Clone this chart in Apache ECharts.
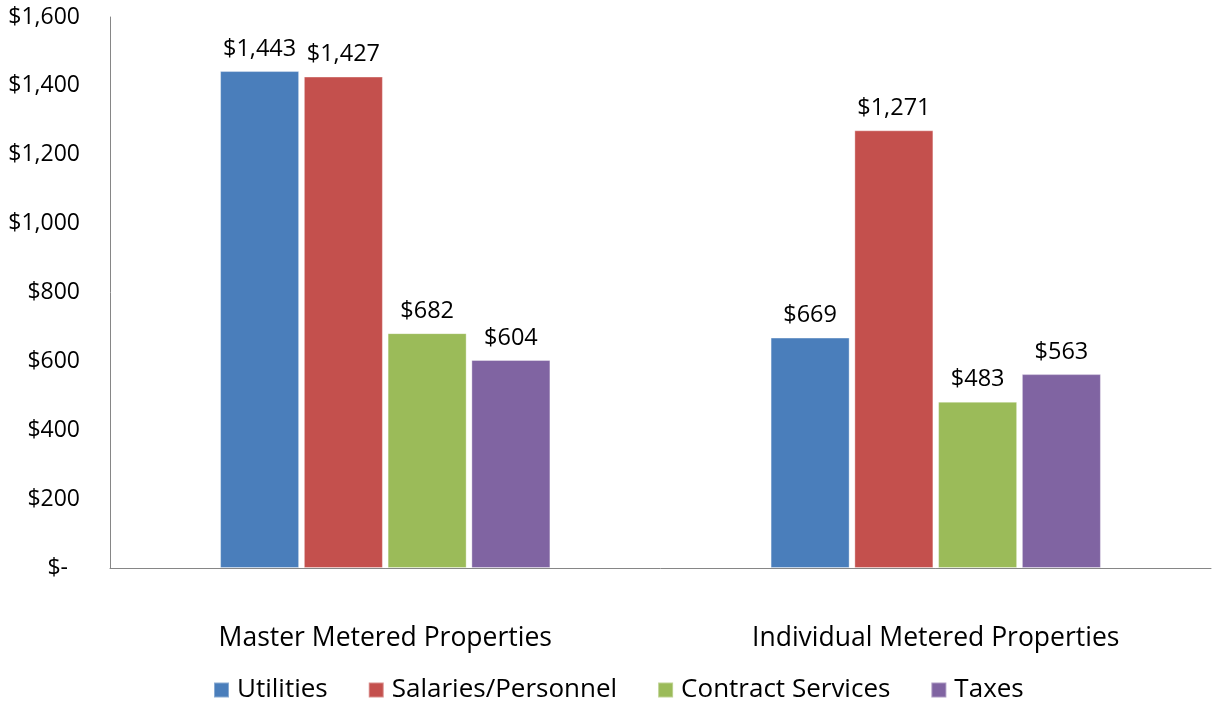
<!DOCTYPE html>
<html><head><meta charset="utf-8">
<script src="https://cdn.jsdelivr.net/npm/echarts@6/dist/echarts.min.js"></script>
<style>html,body{margin:0;padding:0;background:#fff}#c{width:1212px;height:704px}</style>
</head><body><div id="c"></div>
<script>
const categories = ['Master Metered Properties', 'Individual Metered Properties'];
const seriesNames = ['Utilities', 'Salaries/Personnel', 'Contract Services', 'Taxes'];
const utilities = [1443, 669];
const salaries = [1427, 1271];
const contract = [682, 483];
const taxes = [604, 563];
const colors = ['#4A7EBB', '#C4504D', '#9BBB59', '#8064A2'];
const FONT = 'Open Sans';

function money(v) {
  return '$' + Math.round(v).toString().replace(/\B(?=(\d{3})+(?!\d))/g, ',');
}
const values = [utilities, salaries, contract, taxes];
const chart = echarts.init(document.getElementById('c'));
chart.setOption({
  animation: false,
  grid: { left: 110, right: 1, top: 17, bottom: 136, containLabel: false },
  legend: {
    bottom: 1, left: 213, padding: 0, itemWidth: 15, itemHeight: 15, itemGap: 40,
    icon: 'rect',
    textStyle: { fontFamily: FONT, fontSize: 26, color: '#000', padding: [0, 0, 0, 3] },
    data: seriesNames
  },
  xAxis: {
    type: 'category', data: categories,
    axisLine: { lineStyle: { color: '#868686', width: 1 } },
    axisTick: { show: false },
    axisLabel: { margin: 57, fontFamily: FONT, fontSize: 26.5, color: '#000' }
  },
  yAxis: {
    type: 'value', min: 0, max: 1600, interval: 200,
    axisLine: { show: true, lineStyle: { color: '#868686', width: 1 } },
    axisTick: { show: false },
    splitLine: { show: false },
    axisLabel: {
      margin: 30, fontFamily: FONT, fontSize: 23, color: '#000',
      formatter: v => v === 0 ? '{z|$-}' : money(v),
      rich: { z: { fontFamily: FONT, fontSize: 23, color: '#000', padding: [0, 12, 0, 0] } }
    }
  },
  series: seriesNames.map((n, i) => ({
    name: n, type: 'bar', data: values[i],
    barGap: '6%', barCategoryGap: '40%',
    itemStyle: { color: colors[i], borderColor: 'rgba(255,255,255,0.35)', borderWidth: 1 },
    label: {
      show: true, position: 'top', distance: 10,
      fontFamily: FONT, fontSize: 23.5, color: '#000',
      formatter: p => money(p.value)
    }
  }))
});
</script></body></html>
